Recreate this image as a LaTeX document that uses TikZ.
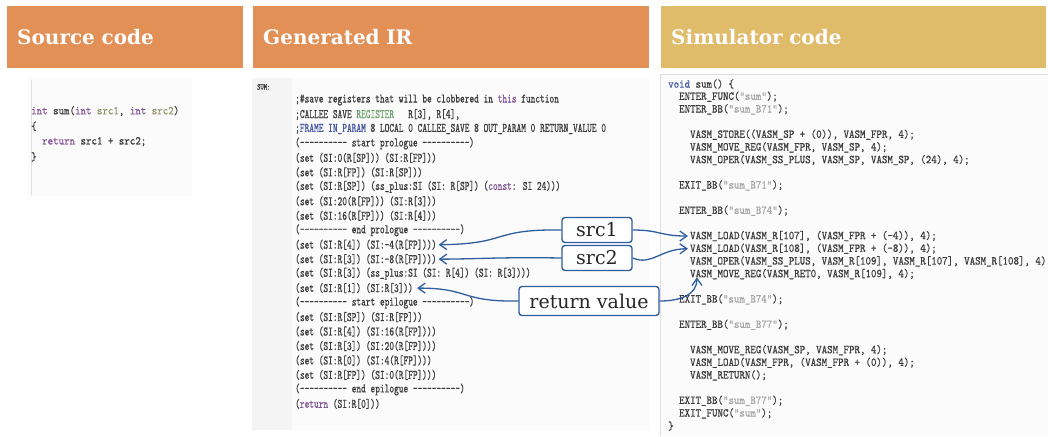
\documentclass[tikz,border=0pt]{standalone}
\usepackage{fontspec}
\usetikzlibrary{arrows.meta}
\newfontfamily\irfont[FakeStretch=0.69,FakeBold=0.6,Ligatures=TeXOff]{lmmono10-regular.otf}
\newfontfamily\simfont[FakeStretch=0.87,FakeBold=0.6,Ligatures=TeXOff]{lmmono10-regular.otf}
\newfontfamily\headfont{DejaVu Serif}
\definecolor{hdrorange}{RGB}{227,144,87}
\definecolor{hdrgold}{RGB}{223,187,106}
\definecolor{callblue}{RGB}{47,93,159}
\definecolor{codegray}{RGB}{60,60,60}
\definecolor{strgray}{RGB}{165,165,165}
\definecolor{kwpurple}{RGB}{130,85,150}
\definecolor{kwgreen}{RGB}{110,165,110}
\definecolor{kwblue}{RGB}{70,90,165}
\definecolor{argolive}{RGB}{150,150,110}
\tikzset{
  header/.style={fill=#1, text=white, anchor=north west, align=left,
    font=\headfont\bfseries\fontsize{20}{24}\selectfont,
    minimum height=62pt, inner xsep=10pt},
  codeline/.style={anchor=west, inner sep=0pt, text=codegray},
  irline/.style={codeline, font=\irfont\fontsize{13}{14}\selectfont},
  simline/.style={codeline, font=\simfont\fontsize{12}{13}\selectfont},
  callout/.style={draw=callblue, line width=1.4pt, rounded corners=3pt, fill=white,
    text=black!85, font=\headfont\fontsize{19}{21}\selectfont, inner sep=2pt},
  tagarrow/.style={callblue, line width=1.3pt, -{Straight Barb[length=7pt,width=10pt]}},
}
\begin{document}
\begin{tikzpicture}[x=1pt,y=-1pt]
\useasboundingbox (0,0) rectangle (1048,436);
% headers
\node[header=hdrorange, text width=216pt] (srchdr) at (7,6) {Source code};
\node[header=hdrorange, text width=376pt] (irhdr) at (253,6) {Generated IR};
\node[header=hdrgold, text width=365pt] (simhdr) at (661,6) {Simulator code};
% panels
\fill[gray!3] (28,78) rectangle (192,196);
\draw[gray!25] (31,80)--(31,195);
\fill[gray!3] (252,78) rectangle (650,430);
\fill[gray!9] (252,78) rectangle (292,430);
\fill[gray!3] (660,74) rectangle (1048,436);
\draw[gray!25] (660,436)--(660,74)--(1048,74);
% source code
\foreach \txt [count=\i] in {
  {\textcolor{kwpurple}{int} sum(\textcolor{kwpurple}{int} \textcolor{argolive}{src1}, \textcolor{kwpurple}{int} \textcolor{argolive}{src2})},
  {\{},
  {~~\textcolor{kwpurple}{return} src1 + src2;},
  {\}}}
  \node[simline] (src\i) at (31,{111+15.3*(\i-1)}) {\txt};
% generated IR
\node[irline, font=\irfont\fontsize{9}{10}\selectfont] (sumlbl) at (257,87) {SUM:};
\foreach \txt [count=\i] in {
  {;\#save registers that will be clobbered in \textcolor{kwpurple}{this} function},
  {;CALLEE SAVE \textcolor{kwgreen}{REGISTER}~~~R[3], R[4],},
  {;\textcolor{kwblue}{FRAME} \textcolor{kwblue}{IN\_PARAM} 8 LOCAL 0 CALLEE\_SAVE 8 OUT\_PARAM 0 RETURN\_VALUE 0},
  {(---------- start prologue ----------)},
  {(set (SI:0(R[SP])) (SI:R[FP]))},
  {(set (SI:R[FP]) (SI:R[SP]))},
  {(set (SI:R[SP]) (ss\_plus:SI (SI: R[SP]) (\textcolor{kwpurple}{const}: SI 24)))},
  {(set (SI:20(R[FP])) (SI:R[3]))},
  {(set (SI:16(R[FP])) (SI:R[4]))},
  {(---------- end prologue ----------)},
  {(set (SI:R[4]) (SI:-4(R[FP])))},
  {(set (SI:R[3]) (SI:-8(R[FP])))},
  {(set (SI:R[3]) (ss\_plus:SI (SI: R[4]) (SI: R[3])))},
  {(set (SI:R[1]) (SI:R[3]))},
  {(---------- start epilogue ----------)},
  {(set (SI:R[SP]) (SI:R[FP]))},
  {(set (SI:R[4]) (SI:16(R[FP])))},
  {(set (SI:R[3]) (SI:20(R[FP])))},
  {(set (SI:R[0]) (SI:4(R[FP])))},
  {(set (SI:R[FP]) (SI:0(R[FP])))},
  {(---------- end epilogue ----------)},
  {(\textcolor{kwpurple}{return} (SI:R[0]))}}
  \node[irline] (ir\i) at (295,{100+14.47*(\i-1)}) {\txt};
% simulator code
\foreach \ind/\txt [count=\i] in {
  0/{\textcolor{kwblue}{void} sum() \{},
  2/{ENTER\_FUNC(\textcolor{strgray}{"sum"});},
  2/{ENTER\_BB(\textcolor{strgray}{"sum\_B71"});},
  0/{},
  4/{VASM\_STORE((VASM\_SP + (0)), VASM\_FPR, 4);},
  4/{VASM\_MOVE\_REG(VASM\_FPR, VASM\_SP, 4);},
  4/{VASM\_OPER(VASM\_SS\_PLUS, VASM\_SP, VASM\_SP, (24), 4);},
  0/{},
  2/{EXIT\_BB(\textcolor{strgray}{"sum\_B71"});},
  0/{},
  2/{ENTER\_BB(\textcolor{strgray}{"sum\_B74"});},
  0/{},
  4/{VASM\_LOAD(VASM\_R[107], (VASM\_FPR + (-4)), 4);},
  4/{VASM\_LOAD(VASM\_R[108], (VASM\_FPR + (-8)), 4);},
  4/{VASM\_OPER(VASM\_SS\_PLUS, VASM\_R[109], VASM\_R[107], VASM\_R[108], 4)},
  4/{VASM\_MOVE\_REG(VASM\_RET0, VASM\_R[109], 4);},
  0/{},
  2/{EXIT\_BB(\textcolor{strgray}{"sum\_B74"});},
  0/{},
  2/{ENTER\_BB(\textcolor{strgray}{"sum\_B77"});},
  0/{},
  4/{VASM\_MOVE\_REG(VASM\_SP, VASM\_FPR, 4);},
  4/{VASM\_LOAD(VASM\_FPR, (VASM\_FPR + (0)), 4);},
  4/{VASM\_RETURN();},
  0/{},
  2/{EXIT\_BB(\textcolor{strgray}{"sum\_B77"});},
  2/{EXIT\_FUNC(\textcolor{strgray}{"sum"});},
  0/{\}}}
  \node[simline] (sim\i) at ({668+5.48*\ind},{84+12.67*(\i-1)}) {\txt};
% callouts
\node[callout, minimum width=70pt, minimum height=25pt] (src1) at (597,230) {src1};
\node[callout, minimum width=70pt, minimum height=25pt] (src2) at (597,258) {src2};
\node[callout, minimum width=140pt, minimum height=29pt] (retval) at (589,301) {return value};
\coordinate (movetip) at ([xshift=7pt,yshift=2pt]sim16.south west);
\draw[tagarrow] (src1.west) .. controls (490,229) and (510,244) .. ([xshift=2pt]ir11.east);
\draw[tagarrow] (src2.west) .. controls (500,257) and (480,259) .. ([xshift=2pt]ir12.east);
\draw[tagarrow] (retval.west) .. controls (460,302) and (470,288) .. ([xshift=4pt]ir14.east);
\draw[tagarrow] (src1.east) .. controls (660,230) and (660,236) .. ([xshift=-2pt]sim13.west);
\draw[tagarrow] (src2.east) .. controls (652,266) and (660,249) .. ([xshift=-2pt]sim14.west);
\draw[tagarrow] (retval.east) .. controls (682,301) and (697,294) .. (movetip);
\end{tikzpicture}
\end{document}
